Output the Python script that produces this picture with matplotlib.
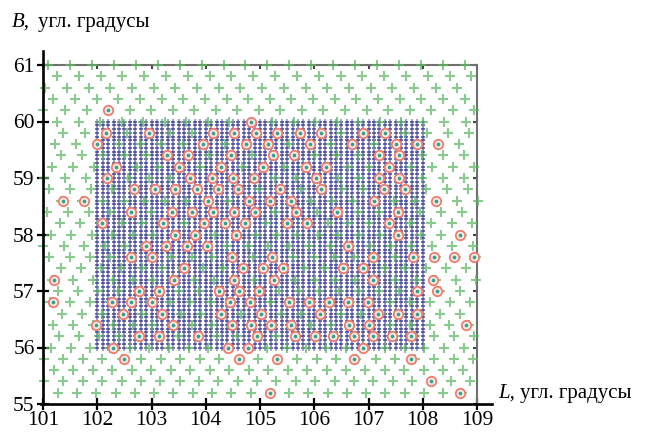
import numpy as np
import matplotlib
matplotlib.use('Agg')
import matplotlib.pyplot as plt
from matplotlib.lines import Line2D

plt.rcParams['font.family'] = ['Liberation Serif', 'DejaVu Serif']

# ---- data ----
x_ticks = [101, 102, 103, 104, 105, 106, 107, 108, 109]
y_ticks = [55, 56, 57, 58, 59, 60, 61]

# dense blue grid (regular study-area grid)
blue_lon = np.linspace(102.0, 108.0, 61)
blue_lat = np.linspace(56.0, 60.0, 61)

# green staggered grid: per-row latitude, anchor longitude and step
green_row_lat = [61.0, 60.8, 60.6, 60.4, 60.2, 60.0, 59.8, 59.6, 59.4, 59.2,
                 59.0, 58.8, 58.6, 58.4, 58.2, 58.0, 57.8, 57.6, 57.4, 57.2,
                 57.0, 56.8, 56.6, 56.4, 56.2, 56.0, 55.8, 55.6, 55.4, 55.2]
green_row_anchor = [101.50, 101.66, 101.44, 101.59, 102.20, 104.83, 104.92, 105.14, 105.24, 105.06,
                    104.89, 104.59, 104.79, 104.90, 104.73, 104.55, 104.02, 104.49, 104.69, 104.52,
                    104.61, 104.81, 105.02, 104.84, 104.94, 104.77, 104.61, 104.79, 108.16, 105.18]
green_row_step = [0.404, 0.402, 0.400, 0.399, 0.397, 0.396, 0.394, 0.392, 0.391, 0.389,
                  0.387, 0.386, 0.384, 0.382, 0.380, 0.379, 0.377, 0.375, 0.374, 0.372,
                  0.370, 0.369, 0.367, 0.365, 0.364, 0.362, 0.360, 0.359, 0.357, 0.355]

# red circles: selected points, by row latitude
red_rows = {
    60.2: [102.20],
    60.0: [104.83],
    59.8: [102.16, 102.96, 104.14, 104.52, 104.92, 105.32, 105.73, 106.12, 106.90, 107.30],
    59.6: [102.00, 103.95, 104.75, 105.14, 105.92, 106.70, 107.50, 107.89, 108.28],
    59.4: [103.28, 103.67, 104.46, 105.24, 105.63, 107.19, 107.57],
    59.2: [102.34, 103.51, 104.28, 105.06, 105.84, 106.22, 107.38],
    59.0: [102.18, 103.71, 104.11, 104.50, 104.89, 106.04, 107.19, 107.57],
    58.8: [102.68, 103.06, 103.43, 103.83, 104.22, 104.59, 105.36, 106.13, 107.28, 107.67],
    58.6: [101.36, 101.76, 104.04, 104.79, 105.18, 105.57, 107.10, 108.24],
    58.4: [102.62, 103.38, 103.75, 104.14, 104.52, 104.90, 105.67, 106.42, 107.54],
    58.2: [102.08, 103.22, 103.97, 104.35, 104.73, 105.49, 105.87, 107.38],
    58.0: [103.43, 103.80, 104.55, 107.54, 108.68],
    57.8: [102.90, 103.27, 103.65, 104.02, 106.62],
    57.6: [102.62, 103.00, 104.49, 105.22, 107.08, 107.82, 108.20, 108.57, 108.94],
    57.4: [103.60, 104.69, 105.06, 105.43, 106.53, 106.90],
    57.2: [101.21, 103.41, 104.52, 105.26, 107.08, 108.19],
    57.0: [102.77, 103.14, 104.24, 104.61, 104.98, 107.89, 108.26],
    56.8: [101.18, 102.27, 102.63, 103.00, 104.44, 104.81, 105.54, 105.90, 106.27, 106.62, 106.99],
    56.6: [102.48, 103.20, 104.28, 105.02, 106.10, 107.17, 107.54, 107.89],
    56.4: [101.98, 103.40, 104.49, 104.84, 105.21, 105.57, 106.64, 107.01, 108.79],
    56.2: [102.77, 103.14, 103.86, 104.94, 105.65, 106.01, 106.35, 106.73, 107.08, 107.44, 107.79],
    56.0: [102.29, 104.41, 104.77, 106.90],
    55.8: [102.49, 104.61, 105.32, 106.73, 107.79],
    55.4: [108.16],
    55.2: [105.18, 108.68],
}

# ---- figure ----
W, H = 652, 432
fig = plt.figure(figsize=(W / 100, H / 100), dpi=100)
ax = fig.add_axes([43 / W, (H - 404) / H, (477 - 43) / W, (404 - 65) / H])
ax.set_xlim(101, 109)
ax.set_ylim(55, 61)

# blue grid: light vertical strokes + dark horizontal dashes
BL, BT = np.meshgrid(blue_lon, blue_lat)
ax.plot(BL.ravel(), BT.ravel(), linestyle='none', marker='|', markersize=4.2,
        markeredgewidth=1.3, color='#9494cc', alpha=0.9, zorder=2, clip_on=False)
ax.plot(BL.ravel(), BT.ravel(), linestyle='none', marker='_', markersize=2.8,
        markeredgewidth=1.2, color='#24248a', alpha=0.75, zorder=2, clip_on=False)

# green grid
gx, gy = [], []
for lat, anc, st in zip(green_row_lat, green_row_anchor, green_row_step):
    kmin = int(np.ceil((101.0 - anc) / st))
    kmax = int(np.floor((109.02 - anc) / st))
    for k in range(kmin, kmax + 1):
        gx.append(anc + k * st)
        gy.append(lat)
ax.plot(gx, gy, linestyle='none', marker='+', markersize=6.5, markeredgewidth=1.5,
        color='#5cb862', alpha=0.72, zorder=3, clip_on=False)

# red circles
rx, ry = [], []
for lat, lons in red_rows.items():
    for lo in lons:
        rx.append(lo)
        ry.append(lat)
ax.plot(rx, ry, linestyle='none', marker='o', markersize=6.8, markeredgewidth=1.3,
        markeredgecolor='#ef7c6c', markerfacecolor='#fbeee9', zorder=4, clip_on=False)
ax.plot(rx, ry, linestyle='none', marker='o', markersize=2.7, markeredgewidth=0,
        color='#36a08a', zorder=5, clip_on=False)

# axes styling
ax.set_xticks(x_ticks)
ax.set_yticks(y_ticks)
ax.set_xticklabels([str(v) for v in x_ticks])
ax.set_yticklabels([str(v) for v in y_ticks])
ax.tick_params(axis='both', direction='inout', length=8, width=1.6, labelsize=15.5,
               colors='black')
ax.tick_params(axis='x', pad=1)
ax.tick_params(axis='y', pad=2)
for s in ['top', 'right']:
    ax.spines[s].set_color('#707070')
    ax.spines[s].set_linewidth(1.5)
for s in ['left', 'bottom']:
    ax.spines[s].set_visible(False)
# extended black axes lines
ax.add_line(Line2D([0, 0], [0, 1.04], transform=ax.transAxes, color='black', lw=1.9,
                   clip_on=False, zorder=6))
ax.add_line(Line2D([-0.005, 1.035], [0, 0], transform=ax.transAxes, color='black', lw=1.9,
                   clip_on=False, zorder=6))

sx = ax.secondary_xaxis('top')
sx.set_xticks(x_ticks)
sx.tick_params(direction='in', length=3, width=1.5, colors='#444444', labeltop=False)
sx.spines['top'].set_visible(False)
sy = ax.secondary_yaxis('right')
sy.set_yticks(y_ticks)
sy.tick_params(direction='in', length=3, width=1.5, colors='#444444', labelright=False)
sy.spines['right'].set_visible(False)

# axis titles
fs = 15
fig.text(12 / W, 1 - 27 / H, 'B,', style='italic', fontsize=fs, va='baseline', ha='left')
fig.text(38 / W, 1 - 27 / H, 'угл. градусы', fontsize=fs, va='baseline', ha='left')
fig.text(498 / W, 1 - 398 / H, 'L,', style='italic', fontsize=fs, va='baseline', ha='left')
fig.text(520 / W, 1 - 398 / H, 'угл. градусы', fontsize=fs, va='baseline', ha='left')

fig.savefig('out.png', dpi=100)
